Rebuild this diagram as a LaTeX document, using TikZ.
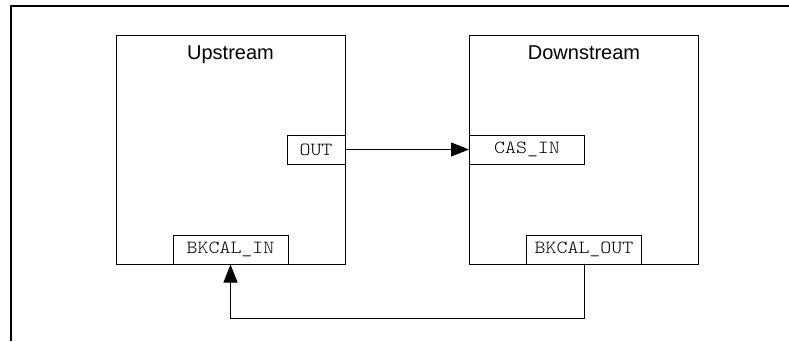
\documentclass[tikz,border=0pt]{standalone}
\usepackage{fontspec}
\setmainfont{Liberation Sans}
\setmonofont{Latin Modern Mono Light}[FakeStretch=1.13]
\usetikzlibrary{arrows.meta}

\begin{document}
\begin{tikzpicture}[
  x=1pt, y=-1pt,
  block/.style = {shape=rectangle, draw, line width=1pt, minimum width=229pt, minimum height=229pt},
  title/.style = {anchor=north, font=\fontsize{20}{24}\selectfont, inner sep=0pt},
  port/.style  = {shape=rectangle, draw, fill=white, line width=1pt, minimum width=115pt, minimum height=29pt,
                  inner sep=0pt, font=\ttfamily\fontsize{18.5}{20}\selectfont},
  link/.style  = {line width=1pt, -{Triangle[length=18pt,width=14pt]}}
]
  \useasboundingbox (0,0) rectangle (789,341);
  \draw[line width=2pt] (11,341) -- (11,6) -- (789,6);

  \node[block] (up)   at (230.5,149.5) {};
  \node[block] (down) at (584,149.5) {};
  \node[title] at ([yshift=-11pt]up.north)   {Upstream};
  \node[title] at ([yshift=-11pt]down.north) {Downstream};

  \node[port, minimum width=58pt, anchor=east] (out) at (up.east) {OUT};
  \node[port, anchor=west] (casin) at (down.west) {CAS\_IN};
  \node[port, anchor=south] (bkin) at (up.south) {BKCAL\_IN};
  \node[port, anchor=south] (bkout) at (down.south) {BKCAL\_OUT};

  \draw[link] (out) -- (casin);
  \draw[link] (bkout.south) -- ++(0,54) -| (bkin.south);
\end{tikzpicture}
\end{document}
